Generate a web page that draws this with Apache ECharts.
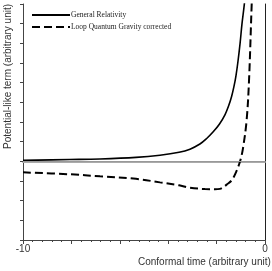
<!DOCTYPE html>
<html><head><meta charset="utf-8">
<script src="https://cdn.jsdelivr.net/npm/echarts@6/dist/echarts.min.js"></script>
<style>html,body{margin:0;padding:0;background:#fff}#c{width:272px;height:271px}</style>
</head><body><div id="c"></div>
<script>
const seriesNames = ['General Relativity', 'Loop Quantum Gravity corrected'];
const grX = [-10, -8.06, -6.82, -5.33, -4.34, -3.55, -3.10, -2.69, -2.42, -2.14, -1.88, -1.65, -1.51, -1.38, -1.28, -1.20, -1.12, -1.03, -0.95, -0.855, -0.79];
const grY = [0.05, 0.09, 0.12, 0.20, 0.31, 0.46, 0.62, 0.88, 1.15, 1.50, 1.90, 2.38, 2.80, 3.30, 3.82, 4.35, 5.05, 6.0, 7.0, 7.98, 8.9];
const lqcX = [-10, -8.06, -6.82, -5.33, -4.34, -3.55, -3.10, -2.48, -2.07, -1.86, -1.72, -1.57, -1.38, -1.20, -1.03, -0.91, -0.76, -0.66, -0.55, -0.50];
const lqcY = [-0.56, -0.66, -0.76, -0.89, -1.07, -1.22, -1.34, -1.41, -1.42, -1.40, -1.31, -1.17, -0.97, -0.56, 0, 0.66, 2.08, 4.12, 7.98, 9.5];
const xTickLabels = {'-10': '-10', '0': '0'};
const xTitle = 'Conformal time (arbitrary unit)';
const yTitle = 'Potential-like term (arbitrary unit)';

const chart = echarts.init(document.getElementById('c'));
const axisColor = '#444';
chart.setOption({
  animation: false,
  grid: {left: 23, right: 7, top: 4, bottom: 31},
  legend: {
    orient: 'vertical', left: 26, top: 6, itemWidth: 38, itemHeight: 8, itemGap: 4,
    itemStyle: {opacity: 0},
    textStyle: {fontFamily: 'Liberation Serif', fontSize: 7.5, color: '#222', padding: [0,0,0,-4]},
    data: seriesNames
  },
  xAxis: [{
    type: 'value', min: -10, max: 0, interval: 2,
    axisLine: {onZero: false, lineStyle: {color: axisColor, width: 1}},
    axisTick: {show: true, length: 4, lineStyle: {color: axisColor}},
    minorTick: {show: true, splitNumber: 5, length: 2, lineStyle: {color: axisColor}},
    splitLine: {show: false},
    axisLabel: {fontFamily: 'Liberation Sans', fontSize: 10, color: '#333', margin: 4,
      formatter: v => xTickLabels[String(v)] || ''}
  }, {
    type: 'value', position: 'top', min: -10, max: 0,
    axisLine: {show: true, lineStyle: {color: '#aaa', width: 2}},
    axisTick: {show: false}, axisLabel: {show: false}, splitLine: {show: false}
  }],
  yAxis: [{
    type: 'value', min: -4, max: 8, interval: 1,
    axisLine: {show: true, onZero: false, lineStyle: {color: axisColor, width: 1}},
    axisTick: {show: true, length: 3, lineStyle: {color: axisColor}},
    axisLabel: {show: false}, splitLine: {show: false}
  }, {
    type: 'value', position: 'right', min: -4, max: 8,
    axisLine: {show: true, lineStyle: {color: '#222', width: 1}},
    axisTick: {show: false}, axisLabel: {show: false}, splitLine: {show: false}
  }],
  graphic: [
    {type: 'text', left: 138, top: 257, style: {text: xTitle, font: '10px "Liberation Sans"', fill: '#333'}},
    {type: 'text', x: 3, y: 149, rotation: Math.PI / 2,
      style: {text: yTitle, font: '10px "Liberation Sans"', fill: '#333', verticalAlign: 'top'}}
  ],
  series: [{
    name: seriesNames[0], type: 'line', symbol: 'none', smooth: 0.35,
    data: grX.map((x, i) => [x, grY[i]]),
    color: '#000',
    lineStyle: {color: '#000', width: 1.6},
    markLine: {silent: true, symbol: 'none', label: {show: false},
      lineStyle: {color: '#999', type: 'solid', width: 1}, data: [{yAxis: 0}]}
  }, {
    name: seriesNames[1], type: 'line', symbol: 'none', smooth: 0.35,
    data: lqcX.map((x, i) => [x, lqcY[i]]),
    color: '#000',
    lineStyle: {color: '#000', width: 2, type: [8, 4]}
  }]
});
</script></body></html>
